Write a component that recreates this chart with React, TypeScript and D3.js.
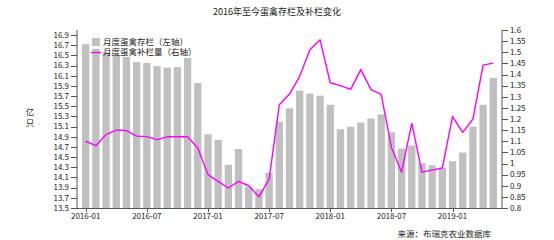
import React from "react";
import * as d3 from "d3";

const months = [
  "2016-01","2016-02","2016-03","2016-04","2016-05","2016-06","2016-07","2016-08","2016-09","2016-10","2016-11","2016-12",
  "2017-01","2017-02","2017-03","2017-04","2017-05","2017-06","2017-07","2017-08","2017-09","2017-10","2017-11","2017-12",
  "2018-01","2018-02","2018-03","2018-04","2018-05","2018-06","2018-07","2018-08","2018-09","2018-10","2018-11","2018-12",
  "2019-01","2019-02","2019-03","2019-04","2019-05",
];

// 月度蛋禽存栏（左轴，亿只）
const stock = [
  16.72, 16.63, 16.56, 16.51, 16.47, 16.37, 16.35, 16.29, 16.26, 16.27, 16.45, 15.96,
  14.95, 14.84, 14.35, 14.66, 13.92, 13.87, 14.19, 15.20, 15.46, 15.81, 15.75, 15.71,
  15.53, 15.05, 15.10, 15.18, 15.26, 15.34, 14.99, 14.67, 14.73, 14.38, 14.34, 14.29,
  14.42, 14.59, 15.10, 15.53, 16.06,
];

// 月度蛋禽补栏量（右轴，亿只）
const restock = [
  1.10, 1.08, 1.13, 1.15, 1.148, 1.123, 1.121, 1.107, 1.12, 1.12, 1.12, 1.07,
  0.95, 0.92, 0.89, 0.92, 0.90, 0.85, 0.93, 1.264, 1.312, 1.392, 1.511, 1.556,
  1.363, 1.35, 1.333, 1.422, 1.332, 1.311, 1.072, 0.961, 1.18, 0.961, 0.97, 0.98,
  1.211, 1.14, 1.20, 1.442, 1.451,
];

const xTickLabels = ["2016-01","2016-07","2017-01","2017-07","2018-01","2018-07","2019-01"];
const leftTicks = [13.5,13.7,13.9,14.1,14.3,14.5,14.7,14.9,15.1,15.3,15.5,15.7,15.9,16.1,16.3,16.5,16.7,16.9];
const rightTicks = [0.8,0.85,0.9,0.95,1,1.05,1.1,1.15,1.2,1.25,1.3,1.35,1.4,1.45,1.5,1.55,1.6];

const title = "2016年至今蛋禽存栏及补栏变化";
const legendBar = "月度蛋禽存栏（左轴）";
const legendLine = "月度蛋禽补栏量（右轴）";
const yUnit = ["亿", "只"];
const source = "来源：布瑞克农业数据库";

const W = 554, H = 240;
const L = 77, R = 502, T = 30, B = 208;
const FONT = "'Noto Sans CJK SC', 'Noto Sans', sans-serif";
const TEXT = "#222";
const AXIS = "#555";

export default function App() {
  const x = d3.scalePoint<string>().domain(months).range([L + 8.7, R - 8.7]);
  const step = x.step();
  const bw = step * 0.72;
  const yL = d3.scaleLinear().domain([13.5, 17.0]).range([B, T]);
  const yR = d3.scaleLinear().domain([0.8, 1.6]).range([B, T]);
  const line = d3.line<number>().x((_, i) => x(months[i])!).y((d) => yR(d));

  return (
    <svg width={W} height={H} style={{ position: "absolute", left: 0, top: 0, display: "block", background: "#fff" }} fontFamily={FONT}>
      <text x={277} y={15} textAnchor="middle" fontSize={9} fill={TEXT}>{title}</text>

      {stock.map((v, i) => (
        <rect key={i} x={x(months[i])! - bw / 2} y={yL(v)} width={bw} height={B - yL(v)} fill="#c0c0c0" />
      ))}
      <path d={line(restock) || ""} fill="none" stroke="#ff00ff" strokeWidth={1.4} strokeLinejoin="round" />

      {/* left axis */}
      <line x1={L} x2={L} y1={T} y2={B} stroke={AXIS} />
      {leftTicks.map((t) => (
        <g key={t}>
          <line x1={L - 6} x2={L} y1={Math.round(yL(t)) + 0.5} y2={Math.round(yL(t)) + 0.5} stroke={AXIS} />
          <text x={L - 8} y={yL(t)} dy="0.35em" textAnchor="end" fontSize={8} fill={TEXT}>{t.toFixed(1)}</text>
        </g>
      ))}
      {/* right axis */}
      <line x1={R} x2={R} y1={T} y2={B} stroke={AXIS} />
      {rightTicks.map((t) => (
        <g key={t}>
          <line x1={R} x2={R + 6} y1={Math.round(yR(t)) + 0.5} y2={Math.round(yR(t)) + 0.5} stroke={AXIS} />
          <text x={R + 8} y={yR(t)} dy="0.35em" textAnchor="start" fontSize={8} fill={TEXT}>{String(+t.toFixed(2))}</text>
        </g>
      ))}
      {/* x axis */}
      <line x1={L} x2={R} y1={B + 0.5} y2={B + 0.5} stroke={AXIS} />
      {xTickLabels.map((m) => (
        <g key={m}>
          <line x1={Math.round(x(m)!) + 0.5} x2={Math.round(x(m)!) + 0.5} y1={B} y2={B + 4} stroke={AXIS} />
          <text x={x(m)!} y={B + 11} textAnchor="middle" fontSize={8} fill={TEXT}>{m}</text>
        </g>
      ))}

      {/* y unit */}
      {yUnit.map((c, i) => (
        <text key={c} x={30} y={112 + i * 11} dy="0.35em" textAnchor="middle" fontSize={8.5} fill={TEXT}>{c}</text>
      ))}

      {/* legend */}
      <rect x={92} y={38} width={8} height={8} fill="#c0c0c0" />
      <text x={103} y={42} dy="0.35em" fontSize={8.5} fill={TEXT}>{legendBar}</text>
      <line x1={91} x2={101} y1={52.5} y2={52.5} stroke="#ff00ff" strokeWidth={1.4} />
      <text x={103} y={52.5} dy="0.35em" fontSize={8.5} fill={TEXT}>{legendLine}</text>

      <text x={491} y={234} dy="0.35em" textAnchor="end" fontSize={8.5} fill={TEXT}>{source}</text>
    </svg>
  );
}
